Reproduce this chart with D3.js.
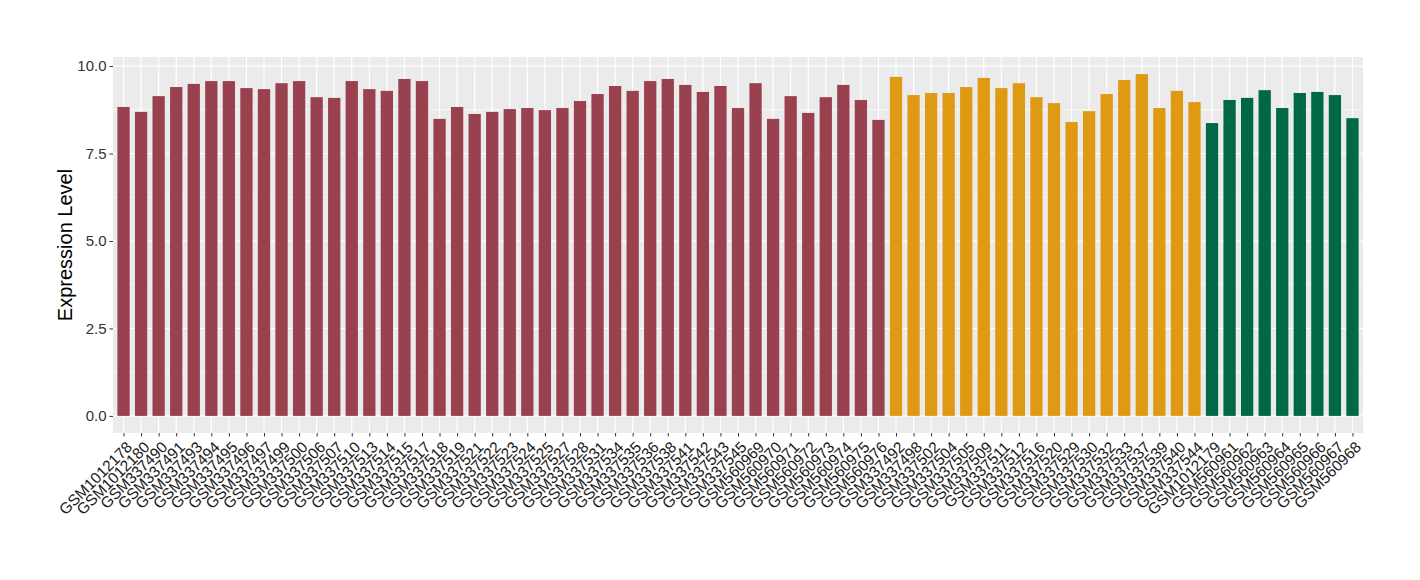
<!DOCTYPE html>
<html lang="en">

<head>
    <meta charset="UTF-8">
    <title>Expression Level</title>
    <script src="https://cdn.jsdelivr.net/npm/d3@7"></script>
    <style>
        body {
            margin: 0;
            background: white;
        }

        text {
            font-family: "Liberation Sans", Arial, Helvetica, sans-serif;
        }
    </style>
</head>

<body>
    <div id="chart"></div>
    <script>
        const samples = [
            "GSM1012178", "GSM1012180", "GSM337490", "GSM337491", "GSM337493", "GSM337494", "GSM337495",
            "GSM337496", "GSM337497", "GSM337499", "GSM337500", "GSM337506", "GSM337507", "GSM337510",
            "GSM337513", "GSM337514", "GSM337515", "GSM337517", "GSM337518", "GSM337519", "GSM337521",
            "GSM337522", "GSM337523", "GSM337524", "GSM337525", "GSM337527", "GSM337528", "GSM337531",
            "GSM337534", "GSM337535", "GSM337536", "GSM337538", "GSM337541", "GSM337542", "GSM337543",
            "GSM337545", "GSM560969", "GSM560970", "GSM560971", "GSM560972", "GSM560973", "GSM560974",
            "GSM560975", "GSM560976",
            "GSM337492", "GSM337498", "GSM337502", "GSM337504", "GSM337505", "GSM337509", "GSM337511",
            "GSM337512", "GSM337516", "GSM337520", "GSM337529", "GSM337530", "GSM337532", "GSM337533",
            "GSM337537", "GSM337539", "GSM337540", "GSM337544",
            "GSM1012179", "GSM560961", "GSM560962", "GSM560963", "GSM560964", "GSM560965", "GSM560966",
            "GSM560967", "GSM560968"
        ];

        const values = [
            8.83, 8.69, 9.14, 9.40, 9.49, 9.57, 9.57, 9.37, 9.34, 9.51, 9.57, 9.11, 9.09, 9.57,
            9.34, 9.29, 9.63, 9.57, 8.49, 8.83, 8.63, 8.69, 8.77, 8.80, 8.74, 8.80, 9.00, 9.20,
            9.43, 9.29, 9.57, 9.63, 9.46, 9.26, 9.43, 8.80, 9.51, 8.49, 9.14, 8.66, 9.11, 9.46,
            9.03, 8.46,
            9.69, 9.17, 9.23, 9.23, 9.40, 9.66, 9.37, 9.51, 9.11, 8.94, 8.40, 8.71, 9.20, 9.60,
            9.77, 8.80, 9.29, 8.97,
            8.37, 9.03, 9.09, 9.31, 8.80, 9.23, 9.26, 9.17, 8.51
        ];

        // group of each sample, by position
        const groups = [].concat(
            Array(44).fill("a"),
            Array(18).fill("b"),
            Array(9).fill("c")
        );

        const groupNames = ["a", "b", "c"];
        const groupColors = ["#9a4150", "#df9a13", "#006845"];

        const yTicks = [0, 2.5, 5, 7.5, 10];
        const yMinor = [1.25, 3.75, 6.25, 8.75];

        const width = 1420;
        const height = 580;
        const panel = { left: 113, right: 1363, top: 57, bottom: 433 };

        const svg = d3.select("#chart").append("svg")
            .attr("width", width)
            .attr("height", height);

        // discrete axis with ggplot style expansion of 0.6 on each side
        const n = samples.length;
        const xPos = d3.scaleLinear()
            .domain([0.4, n + 0.6])
            .range([panel.left, panel.right]);
        const x = name => xPos(samples.indexOf(name) + 1);
        const barWidth = xPos(1.7) - xPos(1);

        const ymax = d3.max(values);
        const pad = ymax * 0.05;
        const y = d3.scaleLinear()
            .domain([-pad, ymax + pad])
            .range([panel.bottom, panel.top]);

        const color = d3.scaleOrdinal()
            .domain(groupNames)
            .range(groupColors);

        // panel
        svg.append("rect")
            .attr("x", panel.left)
            .attr("y", panel.top)
            .attr("width", panel.right - panel.left)
            .attr("height", panel.bottom - panel.top)
            .attr("fill", "#ebebeb");

        const grid = svg.append("g").attr("stroke", "white");

        grid.selectAll("line.minor")
            .data(yMinor)
            .join("line")
            .attr("class", "minor")
            .attr("x1", panel.left)
            .attr("x2", panel.right)
            .attr("y1", d => y(d))
            .attr("y2", d => y(d))
            .attr("stroke-width", 0.6);

        grid.selectAll("line.majory")
            .data(yTicks)
            .join("line")
            .attr("class", "majory")
            .attr("x1", panel.left)
            .attr("x2", panel.right)
            .attr("y1", d => y(d))
            .attr("y2", d => y(d))
            .attr("stroke-width", 1.2);

        grid.selectAll("line.majorx")
            .data(samples)
            .join("line")
            .attr("class", "majorx")
            .attr("x1", d => x(d))
            .attr("x2", d => x(d))
            .attr("y1", panel.top)
            .attr("y2", panel.bottom)
            .attr("stroke-width", 1.2);

        // bars
        svg.append("g")
            .selectAll("rect")
            .data(samples)
            .join("rect")
            .attr("x", d => x(d) - barWidth / 2)
            .attr("width", barWidth)
            .attr("y", (d, i) => y(values[i]))
            .attr("height", (d, i) => y(0) - y(values[i]))
            .attr("fill", (d, i) => color(groups[i]));

        // y axis
        const yAxis = svg.append("g")
            .attr("transform", `translate(${panel.left},0)`)
            .call(d3.axisLeft(y)
                .tickValues(yTicks)
                .tickFormat(d3.format(".1f"))
                .tickSize(3.5)
                .tickPadding(3));
        yAxis.select(".domain").remove();
        yAxis.selectAll(".tick line").attr("stroke", "#333333");
        yAxis.selectAll(".tick text")
            .attr("fill", "#333333")
            .attr("font-size", 15);

        // x axis
        const xAxis = svg.append("g")
            .attr("transform", `translate(0,${panel.bottom})`)
            .call(d3.axisBottom(xPos)
                .tickValues(d3.range(1, n + 1))
                .tickFormat(i => samples[i - 1])
                .tickSize(3.5)
                .tickPadding(2));
        xAxis.select(".domain").remove();
        xAxis.selectAll(".tick line").attr("stroke", "#333333");
        xAxis.selectAll(".tick text")
            .attr("fill", "#1a1a1a")
            .attr("font-size", 15.5)
            .attr("text-anchor", "end")
            .attr("dy", "0.75em")
            .attr("transform", "translate(-3,3) rotate(-45)");

        // axis title
        svg.append("text")
            .attr("transform", `translate(72,${(panel.top + panel.bottom) / 2}) rotate(-90)`)
            .attr("text-anchor", "middle")
            .attr("font-size", 20)
            .attr("fill", "black")
            .text("Expression Level");
    </script>
</body>

</html>
